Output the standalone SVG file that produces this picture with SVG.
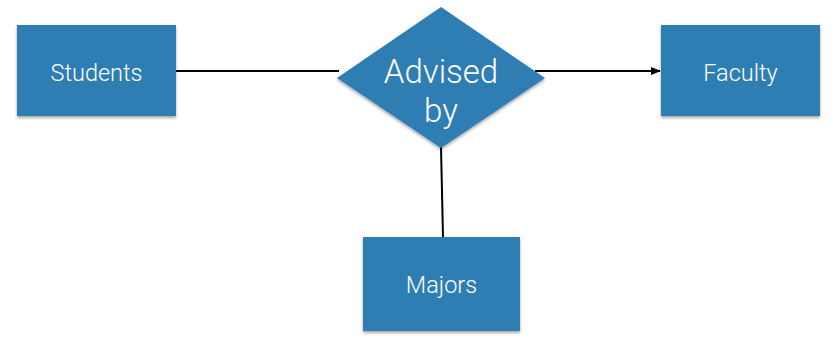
<svg xmlns="http://www.w3.org/2000/svg" width="833" height="349" viewBox="0 0 833 349">
<style>
.node{fill:#2e7db3;filter:url(#sh)}
.lbl{fill:#ffffff;font-family:Roboto,"Liberation Sans",Arial,sans-serif;font-weight:300;text-anchor:middle}
.edge{stroke:#000;stroke-width:2;fill:none}
</style>
<defs>
<filter id="sh" x="-10%" y="-10%" width="120%" height="130%">
<feDropShadow dx="0" dy="2" stdDeviation="1.5" flood-color="#000" flood-opacity="0.35"/>
</filter>
<marker id="arr" markerWidth="10" markerHeight="10" refX="9" refY="5" orient="auto" markerUnits="userSpaceOnUse">
<path d="M0,1 L10,5 L0,9 Z" fill="#000"/>
</marker>
</defs>
<g id="connectors">
<line class="edge" x1="176" y1="71" x2="339" y2="71"/>
<line class="edge" x1="535" y1="71" x2="660" y2="71" marker-end="url(#arr)"/>
<line class="edge" x1="441" y1="147" x2="443" y2="237"/>
</g>
<g id="students">
<rect class="node" x="17" y="25" width="159" height="91"/>
<text class="lbl" x="96.5" y="80.5" font-size="23.5">Students</text>
</g>
<g id="faculty">
<rect class="node" x="661" y="25" width="159" height="91"/>
<text class="lbl" x="740.5" y="80.5" font-size="23.5">Faculty</text>
</g>
<g id="majors">
<rect class="node" x="363" y="237" width="157" height="94"/>
<text class="lbl" x="441.5" y="292.5" font-size="23.5">Majors</text>
</g>
<g id="advised-by">
<polygon class="node" points="441,7 545,78 441,148 337,78"/>
<text class="lbl" x="441" y="83" font-size="33">Advised</text>
<text class="lbl" x="441" y="122" font-size="33">by</text>
</g>
</svg>
